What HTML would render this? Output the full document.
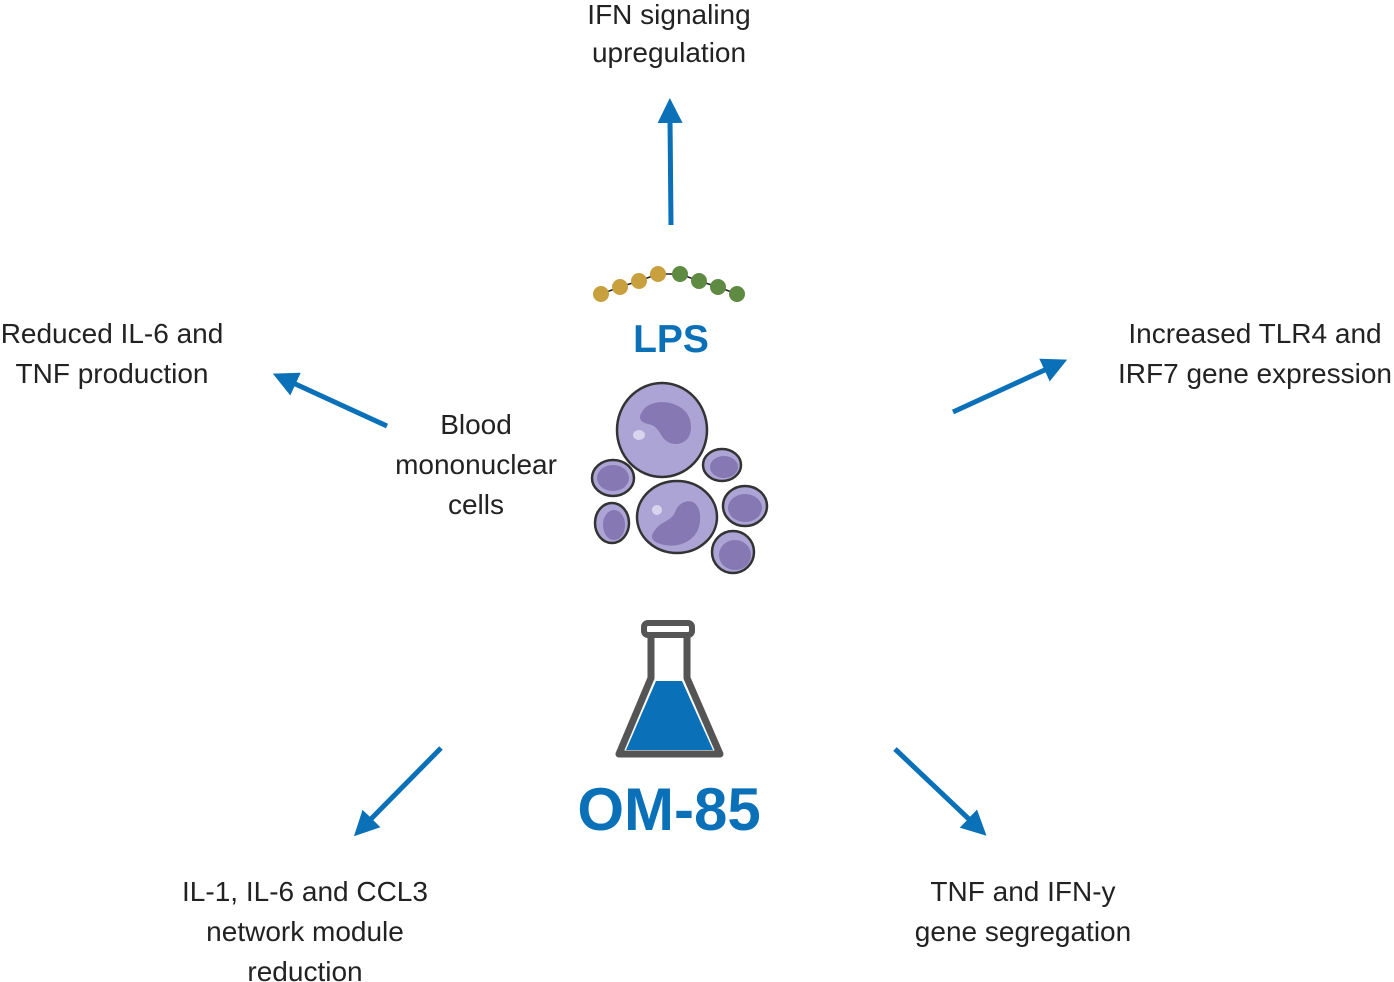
<!DOCTYPE html>
<html><head><meta charset="utf-8"><style>
html,body{margin:0;padding:0;background:#fff;}
svg{display:block;}
text{font-family:"Liberation Sans",sans-serif;fill:#222;font-size:28px;}
</style></head><body>
<svg width="1394" height="982" viewBox="0 0 1394 982" xmlns="http://www.w3.org/2000/svg">
<defs>
<marker id="ah" markerWidth="5" markerHeight="5" refX="1" refY="2.5" orient="auto" markerUnits="strokeWidth">
<path d="M0,0 L5,2.5 L0,5 Z" fill="#0a70b8"/></marker>
</defs>
<g stroke="#0a70b8" stroke-width="5" fill="none" marker-end="url(#ah)">
<line x1="671" y1="225" x2="670" y2="118"/>
<line x1="387" y1="426" x2="291" y2="382"/>
<line x1="953" y1="412" x2="1049" y2="368"/>
<line x1="441" y1="748" x2="368" y2="822"/>
<line x1="895" y1="749" x2="972" y2="822"/>
</g>
<g text-anchor="middle">
<text x="669" y="24">IFN signaling</text>
<text x="669" y="62">upregulation</text>
<text x="112" y="343">Reduced IL-6 and</text>
<text x="112" y="383">TNF production</text>
<text x="1255" y="343">Increased TLR4 and</text>
<text x="1255" y="383">IRF7 gene expression</text>
<text x="476" y="434">Blood</text>
<text x="476" y="474">mononuclear</text>
<text x="476" y="514">cells</text>
<text x="305" y="901">IL-1, IL-6 and CCL3</text>
<text x="305" y="941">network module</text>
<text x="305" y="981">reduction</text>
<text x="1023" y="901">TNF and IFN-y</text>
<text x="1023" y="941">gene segregation</text>
<text x="671" y="352" style="font-size:39px;font-weight:bold;fill:#0a70b8">LPS</text>
<text x="669" y="830" style="font-size:60px;font-weight:bold;fill:#0a70b8">OM-85</text>
</g>
<polyline points="601,294 620,287 639,281 658,274 680,274 699,281 718,287 737,294" stroke="#222" stroke-width="1.5" fill="none"/>
<g fill="#c9a03e"><circle cx="601" cy="294" r="8"/><circle cx="620" cy="287" r="8"/><circle cx="639" cy="281" r="8"/><circle cx="658" cy="274" r="8"/></g>
<g fill="#5e8a42"><circle cx="680" cy="274" r="8"/><circle cx="699" cy="281" r="8"/><circle cx="718" cy="287" r="8"/><circle cx="737" cy="294" r="8"/></g>
<g stroke="#333" stroke-width="2.5" fill="#aba4d4">
<ellipse cx="662" cy="430" rx="45" ry="47"/>
<ellipse cx="613" cy="478" rx="21" ry="18"/>
<ellipse cx="722" cy="465" rx="19" ry="16"/>
<ellipse cx="677" cy="517" rx="40" ry="36"/>
<ellipse cx="745" cy="506" rx="22" ry="20"/>
<ellipse cx="612" cy="523" rx="17" ry="20"/>
<ellipse cx="733" cy="552" rx="21" ry="21"/>
</g>
<g fill="#8578b3">
<path d="M642,412 C650,396 685,400 690,420 C695,440 680,448 668,442 C660,438 660,426 648,424 C640,422 638,418 642,412Z"/>
<ellipse cx="613" cy="478" rx="16" ry="13"/>
<ellipse cx="724" cy="467" rx="14" ry="11"/>
<path d="M655,530 C662,520 672,522 676,510 C680,500 698,495 700,515 C702,540 680,548 665,545 C650,542 650,536 655,530Z"/>
<ellipse cx="745" cy="508" rx="17" ry="14"/>
<ellipse cx="614" cy="525" rx="11" ry="15"/>
<ellipse cx="735" cy="555" rx="16" ry="15"/>
</g>
<g fill="#d8d4ee"><ellipse cx="639" cy="435" rx="6" ry="5"/><ellipse cx="657" cy="510" rx="5" ry="5"/></g>
<path d="M651,634 L651,678 L619,754 L720,754 L687,678 L687,634" fill="none" stroke="#555" stroke-width="7" stroke-linejoin="round"/>
<path d="M656,681 L682,681 L713,750 L626,750 Z" fill="#0a70b8"/>
<rect x="644" y="623" width="48" height="12" rx="4" fill="none" stroke="#555" stroke-width="6"/>
</svg>
</body></html>
